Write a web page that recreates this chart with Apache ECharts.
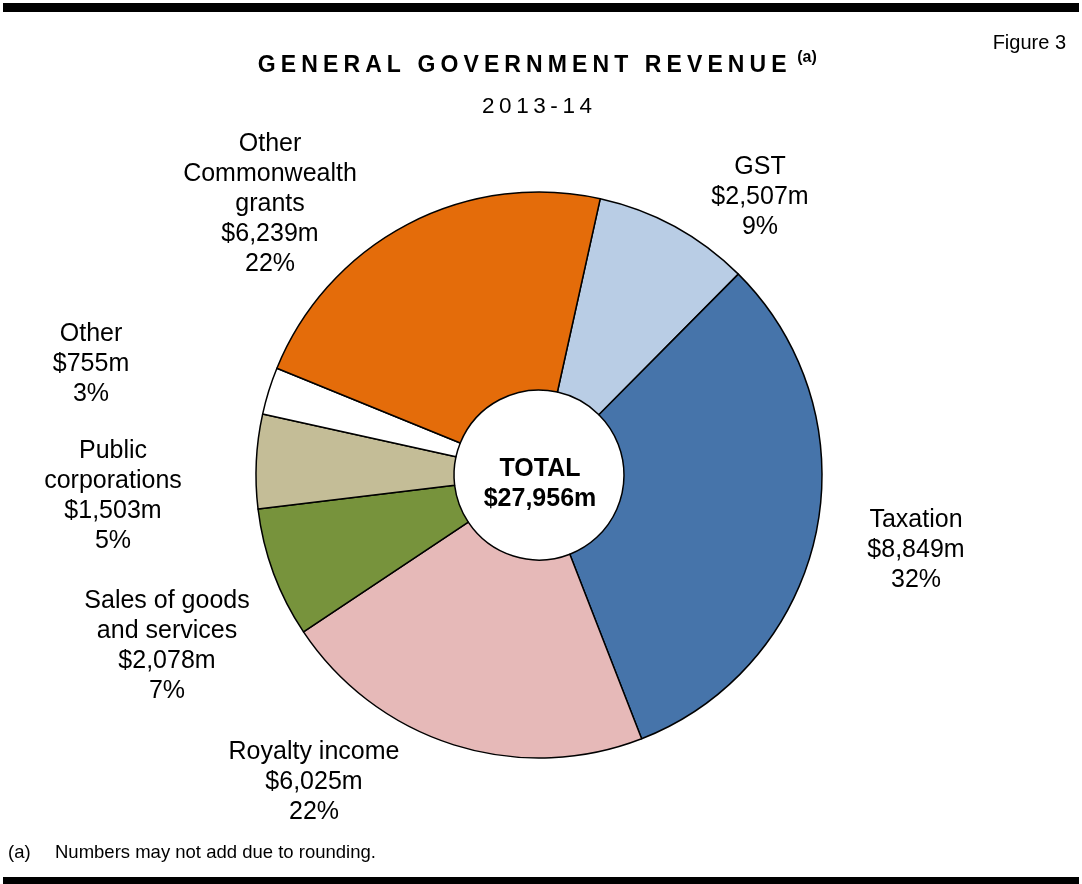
<!DOCTYPE html>
<html>
<head>
<meta charset="utf-8">
<title>General Government Revenue 2013-14</title>
<script src="https://cdn.jsdelivr.net/npm/echarts@6/dist/echarts.min.js"></script>
<style>
  html, body { margin: 0; padding: 0; background: #fff; }
  #chart { width: 1082px; height: 884px; }
</style>
</head>
<body>
<div id="chart"></div>
<script>
// Revenue categories, clockwise from the top
const categories = [
  'GST',
  'Taxation',
  'Royalty income',
  'Sales of goods\nand services',
  'Public\ncorporations',
  'Other',
  'Other\nCommonwealth\ngrants'
];
// Revenue by category, $ million
const revenue = [2507, 8849, 6025, 2078, 1503, 755, 6239];

const sliceColors = ['#B9CDE5', '#4674AA', '#E6B9B8', '#77933C', '#C4BD97', '#FFFFFF', '#E46C0A'];

// Label block centres (px) for each category
const labelSpots = [
  [760, 197],
  [916, 550],
  [314, 782],
  [167, 646],
  [113, 496],
  [91, 364],
  [270, 204]
];

const titleText = 'GENERAL GOVERNMENT REVENUE';
const subtitleText = '2013-14';

const total = revenue.reduce((a, b) => a + b, 0);
const fmt = v => v.toLocaleString('en-US');

// Spread characters out by wrapping each one in a padded rich-text token
function spaced(str, key) {
  return str.split('').map(ch => '{' + key + '|' + ch + '}').join('');
}

const chart = echarts.init(document.getElementById('chart'), null, { renderer: 'canvas' });

const fontFam = '"Liberation Sans", Arial, Helvetica, sans-serif';

chart.setOption({
  animation: false,
  backgroundColor: '#ffffff',
  title: [
    {
      text: spaced(titleText, 't') + '{sup|(a)}',
      left: 531,
      top: 45,
      textAlign: 'center',
      textStyle: {
        rich: {
          t: { fontFamily: fontFam, fontSize: 23, fontWeight: 'bold', color: '#000', padding: [0, 2.55, 0, 2.55] },
          sup: { fontFamily: fontFam, fontSize: 16, fontWeight: 'bold', color: '#000', verticalAlign: 'top', padding: [0, 0, 16, 8] }
        }
      }
    },
    {
      text: spaced(subtitleText, 's'),
      left: 532,
      top: 90,
      textAlign: 'center',
      textStyle: {
        rich: {
          s: { fontFamily: fontFam, fontSize: 22.5, fontWeight: 'normal', color: '#000', padding: [0, 2.3, 0, 2.3] }
        }
      }
    },
    {
      text: 'Figure 3',
      right: 11,
      top: 28,
      textStyle: { fontFamily: fontFam, fontSize: 20, fontWeight: 'normal', color: '#000' }
    }
  ],
  graphic: [
    { type: 'rect', shape: { x: 3, y: 3, width: 1076, height: 9 }, style: { fill: '#000' } },
    { type: 'rect', shape: { x: 3, y: 877, width: 1076, height: 8 }, style: { fill: '#000' } },
    {
      type: 'text', left: 8, top: 843,
      style: { text: '(a)', font: '18.5px ' + fontFam, fill: '#000' }
    },
    {
      type: 'text', left: 55, top: 843,
      style: { text: 'Numbers may not add due to rounding.', font: '18.5px ' + fontFam, fill: '#000' }
    },
    {
      type: 'text', x: 540, y: 484, z: 100,
      style: {
        text: 'TOTAL\n$' + fmt(total) + 'm',
        font: 'bold 25px ' + fontFam,
        fill: '#000',
        align: 'center',
        verticalAlign: 'middle',
        lineHeight: 30
      }
    }
  ],
  series: [
    {
      type: 'pie',
      center: [539, 475],
      radius: [85, 283],
      startAngle: 77.5,
      clockwise: true,
      avoidLabelOverlap: false,
      emphasis: { disabled: true },
      itemStyle: { borderColor: '#000', borderWidth: 1.5 },
      label: {
        show: true,
        position: 'outside',
        fontFamily: fontFam,
        fontSize: 25,
        lineHeight: 30,
        color: '#000',
        align: 'center',
        formatter: p => p.name + '\n$' + fmt(p.value) + 'm\n' + Math.round(p.percent) + '%'
      },
      labelLine: { show: false },
      labelLayout: p => ({
        x: labelSpots[p.dataIndex][0],
        y: labelSpots[p.dataIndex][1],
        align: 'center',
        verticalAlign: 'middle'
      }),
      data: categories.map((name, i) => ({
        name: name,
        value: revenue[i],
        itemStyle: { color: sliceColors[i] }
      }))
    }
  ]
});
</script>
</body>
</html>
